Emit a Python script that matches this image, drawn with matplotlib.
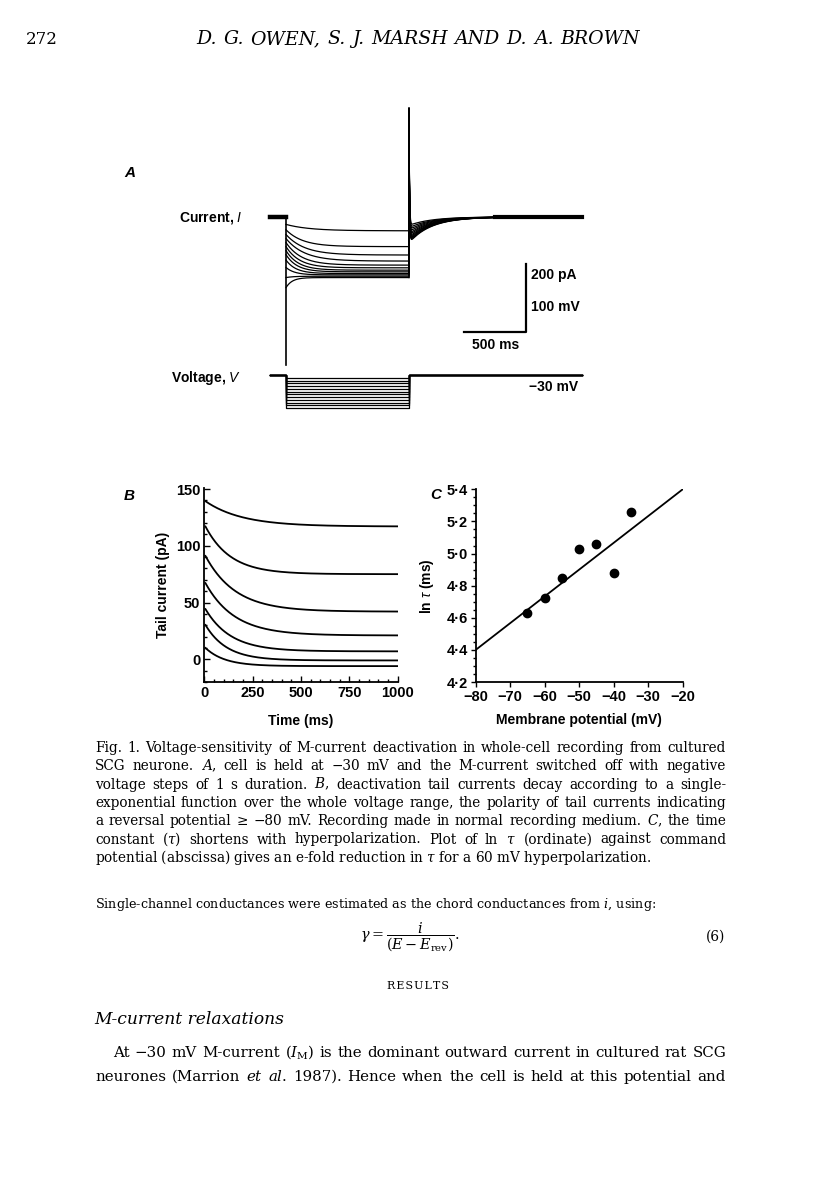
import numpy as np
import matplotlib
matplotlib.use("Agg")
import matplotlib.pyplot as plt
from matplotlib.ticker import MultipleLocator, FuncFormatter

plt.rcParams.update({
    "font.family": ["Liberation Sans", "DejaVu Sans"],
    "mathtext.fontset": "custom",
    "mathtext.rm": "Liberation Sans",
    "mathtext.it": "Liberation Sans:italic",
    "mathtext.bf": "Liberation Sans:bold",
})

# ---------------- data ----------------
# Panel A: voltage-step protocol (mV) and whole-cell current (pA, relative to holding)
hold_V = -30
step_V = [-35, -40, -45, -50, -55, -60, -65, -70, -75, -80, -85, -90]
hold_I = 0
step_I_init = [-22, -38, -52, -64, -76, -88, -100, -112, -128, -150, -180, -210]
step_I_ss = [-41, -88, -113, -131, -143, -151, -158, -163, -168, -172, -176, -180]
step_tau = [190, 135, 150, 150, 125, 110, 100, 90, 80, 70, 60, 50]
tail_I_init = [-25, -32, -38, -44, -50, -55, -60, -64, -68, -71, -74, -77]
tail_tau = [180, 180, 180, 180, 180, 180, 180, 180, 180, 180, 180, 180]
spike_on_I = -440
spike_off_I = 350
t_first, t_on, t_off, t_last = -130, 0, 1000, 2410
scale_I, scale_t = 200, 500

# Panel B: tail currents (start, plateau, time constant)
b_I0 = [140, 119, 93, 69, 46, 32, 11]
b_Iinf = [117, 75, 42, 21, 7, -1, -6]
b_tau = [190, 130, 155, 150, 130, 110, 100]

# Panel C: ln tau vs membrane potential
c_V = [-65, -60, -55, -50, -45, -40, -35]
c_lntau = [4.63, 4.72, 4.85, 5.03, 5.06, 4.88, 5.26]
fit_V = [-80, -20]
fit_lntau = [4.40, 5.40]

# ---------------- layout helpers ----------------
W, H = 816, 1181
fig = plt.figure(figsize=(W / 100, H / 100), dpi=100)
renderer = fig.canvas.get_renderer()


def rect(x0, y0, x1, y1):
    return [x0 / W, 1 - y1 / H, (x1 - x0) / W, (y1 - y0) / H]


def fx(x):
    return x / W


def fy(y):
    return 1 - y / H


def fit_size(text, target, base=10, **kw):
    t = fig.text(0, 0, text, fontsize=base, **kw)
    w = t.get_window_extent(renderer).width
    t.remove()
    return base * target / w


def justify(words, x0, x1, y, **kw):
    texts = [fig.text(0, fy(y), w, va="baseline", ha="left", **kw) for w in words]
    widths = [t.get_window_extent(renderer).width for t in texts]
    gap = ((x1 - x0) - sum(widths)) / max(len(words) - 1, 1)
    x = x0
    for t, w in zip(texts, widths):
        t.set_x(fx(x))
        x += w + gap


serif = dict(family="DejaVu Serif", math_fontfamily="dejavuserif")

# ---------------- page header ----------------
fig.text(fx(26), fy(44), "272", fontsize=12, **serif)
hdr = "D. G. OWEN, S. J. MARSH AND D. A. BROWN"
hs = fit_size(hdr, 435, style="italic", family="DejaVu Serif")
justify(hdr.split(" "), 196, 640, 44, fontsize=hs, style="italic", family="DejaVu Serif")

# ---------------- panel A ----------------
px_ms, x0_ms = 0.123, 286
px_pA, y0_pA = 0.3365, 217
axA = fig.add_axes(rect(255, 95, 595, 372))
axA.set_xlim((255 - x0_ms) / px_ms, (595 - x0_ms) / px_ms)
axA.set_ylim(-(372 - y0_pA) / px_pA, (y0_pA - 95) / px_pA)
axA.axis("off")

t_step = np.linspace(t_on, t_off, 400)
t_tail = np.linspace(t_off, t_last, 900)
for I0, Iss, tau, T0, ttau in zip(step_I_init, step_I_ss, step_tau, tail_I_init, tail_tau):
    I_step = Iss + (I0 - Iss) * np.exp(-(t_step - t_on) / tau)
    axA.plot(t_step, I_step, color="black", lw=0.9)
    I_tail = hold_I + (T0 - hold_I) * np.exp(-(t_tail - t_off) / ttau) \
        + spike_off_I * np.exp(-(t_tail - t_off) / 4)
    axA.plot(np.r_[t_off, t_tail], np.r_[Iss, I_tail], color="black", lw=0.9)
axA.plot([t_first, t_on], [hold_I, hold_I], color="black", lw=3.2)
axA.plot([t_on, t_on], [hold_I, spike_on_I], color="black", lw=1.2)
axA.plot([t_off + 700, t_last], [hold_I, hold_I], color="black", lw=3.0)

# scale bar
sb_t = (525.7 - x0_ms) / px_ms
sb_I = -(331.7 - y0_pA) / px_pA
axA.plot([sb_t - scale_t, sb_t, sb_t], [sb_I, sb_I, sb_I + scale_I], color="black", lw=1.6)

px_mV, y0_mV = 0.55, 375
axV = fig.add_axes(rect(255, 362, 595, 432))
axV.set_xlim(axA.get_xlim())
axV.set_ylim(hold_V - (432 - y0_mV) / px_mV, hold_V + (y0_mV - 362) / px_mV)
axV.axis("off")
for V in step_V:
    axV.plot([t_first, t_on, t_on, t_off, t_off, t_last],
             [hold_V, hold_V, V, V, hold_V, hold_V], color="black", lw=0.9)

lab = dict(fontsize=10, weight="bold")
fig.text(fx(124), fy(177), "A", fontsize=11, style="italic", weight="bold")
fig.text(fx(243), fy(221), r"Current, $I$", ha="right", **lab)
fig.text(fx(241), fy(382), r"Voltage, $V$", ha="right", **lab)
fig.text(fx(531), fy(279), "200 pA", **lab)
fig.text(fx(531), fy(311), "100 mV", **lab)
fig.text(fx(496), fy(349), "500 ms", ha="center", **lab)
fig.text(fx(578), fy(391), "\u221230 mV", ha="right", **lab)

# ---------------- panel B ----------------
axB = fig.add_axes(rect(204.3, 487.9, 397.7, 682))
axB.set_xlim(0, 1000)
axB.set_ylim(-20, 151)
tB = np.linspace(6, 1000, 400)
for I0, Iinf, tau in zip(b_I0, b_Iinf, b_tau):
    axB.plot(tB, Iinf + (I0 - Iinf) * np.exp(-tB / tau), color="black", lw=1.3)
for s in ["top", "right"]:
    axB.spines[s].set_visible(False)
for s in ["left", "bottom"]:
    axB.spines[s].set_linewidth(1.3)
axB.xaxis.set_major_locator(MultipleLocator(250))
axB.xaxis.set_minor_locator(MultipleLocator(50))
axB.yaxis.set_minor_locator(MultipleLocator(10))
axB.set_yticks([0, 50, 100, 150])
axB.tick_params(which="both", direction="in", width=1.0)
axB.tick_params(which="major", length=4, labelsize=10.5, pad=3)
axB.tick_params(which="minor", length=2)
for t in axB.get_xticklabels() + axB.get_yticklabels():
    t.set_fontweight("bold")
axB.set_xlabel("Time (ms)", fontsize=10, weight="bold", labelpad=10)
axB.set_ylabel("Tail current (pA)", fontsize=10, weight="bold", labelpad=4)
fig.text(fx(124), fy(500), "B", fontsize=11, style="italic", weight="bold")

# ---------------- panel C ----------------
axC = fig.add_axes(rect(475.7, 489.3, 682.7, 682))
axC.set_xlim(-80, -20)
axC.set_ylim(4.2, 5.4)
axC.plot(fit_V, fit_lntau, color="black", lw=1.3)
axC.plot(c_V, c_lntau, "o", color="black", ms=6)
for s in ["top", "right"]:
    axC.spines[s].set_visible(False)
for s in ["left", "bottom"]:
    axC.spines[s].set_linewidth(1.3)
axC.xaxis.set_major_locator(MultipleLocator(10))
axC.yaxis.set_major_locator(MultipleLocator(0.2))
axC.yaxis.set_minor_locator(MultipleLocator(0.05))
axC.xaxis.set_major_formatter(FuncFormatter(lambda v, p: f"{v:.0f}".replace("-", "\u2212")))
axC.yaxis.set_major_formatter(FuncFormatter(lambda v, p: f"{v:.1f}".replace(".", "\u00b7")))
axC.tick_params(which="both", direction="out", width=1.0)
axC.tick_params(which="major", length=3.5, labelsize=10.5, pad=2)
axC.tick_params(which="minor", length=2)
for t in axC.get_xticklabels() + axC.get_yticklabels():
    t.set_fontweight("bold")
axC.set_xlabel("Membrane potential (mV)", fontsize=10, weight="bold", labelpad=7)
axC.set_ylabel(r"ln $\tau$ (ms)", fontsize=10, weight="bold", labelpad=8)
fig.text(fx(430), fy(499), "C", fontsize=11, style="italic", weight="bold")

# ---------------- caption ----------------
cap = [
    "Fig. 1. Voltage-sensitivity of M-current deactivation in whole-cell recording from cultured",
    "SCG neurone. $A$, cell is held at \u221230 mV and the M-current switched off with negative",
    "voltage steps of 1 s duration. $B$, deactivation tail currents decay according to a single-",
    "exponential function over the whole voltage range, the polarity of tail currents indicating",
    "a reversal potential \u2265 \u221280 mV. Recording made in normal recording medium. $C$, the time",
    "constant ($\\tau$) shortens with hyperpolarization. Plot of ln $\\tau$ (ordinate) against command",
    "potential (abscissa) gives an e-fold reduction in $\\tau$ for a 60 mV hyperpolarization.",
]
cs = fit_size(cap[0], 625, **serif)
cap_y0, cap_dy = 752, 18.3
sp_w = fit_size(" ", 1, **serif)  # unused helper call for symmetry
for i, line in enumerate(cap):
    y = cap_y0 + i * cap_dy
    if i < len(cap) - 1:
        justify(line.split(" "), 95, 726, y, fontsize=cs, **serif)
    else:
        fig.text(fx(95), fy(y), line, fontsize=cs, va="baseline", **serif)

# ---------------- body text ----------------
sc = "Single-channel conductances were estimated as the chord conductances from $i$, using:"
ss = fit_size(sc, 560, **serif)
fig.text(fx(95), fy(908), sc, fontsize=ss, va="baseline", **serif)
fig.text(fx(410), fy(937), r"$\gamma = \dfrac{i}{(E - E_\mathrm{rev})}$.", ha="center", va="center",
         fontsize=cs + 0.5, **serif)
fig.text(fx(725), fy(937), "(6)", ha="right", va="center", fontsize=cs, **serif)
fig.text(fx(418), fy(989), "R E S U L T S".replace(" ", "\u200a"), ha="center", va="baseline",
         fontsize=cs * 0.8, **serif)
fig.text(fx(94), fy(1024), "M-current relaxations", fontsize=cs * 1.25, style="italic", va="baseline",
         family="DejaVu Serif")
b1 = "At \u221230 mV M-current ($I_\\mathrm{M}$) is the dominant outward current in cultured rat SCG"
bs = fit_size(b1, 605, **serif)
justify(b1.split(" "), 113, 726, 1057, fontsize=bs, **serif)
justify("neurones (Marrion $et$ $al$. 1987). Hence when the cell is held at this potential and".split(" "),
        95, 726, 1081, fontsize=bs, **serif)

fig.savefig("out.png", dpi=100, facecolor="white")
